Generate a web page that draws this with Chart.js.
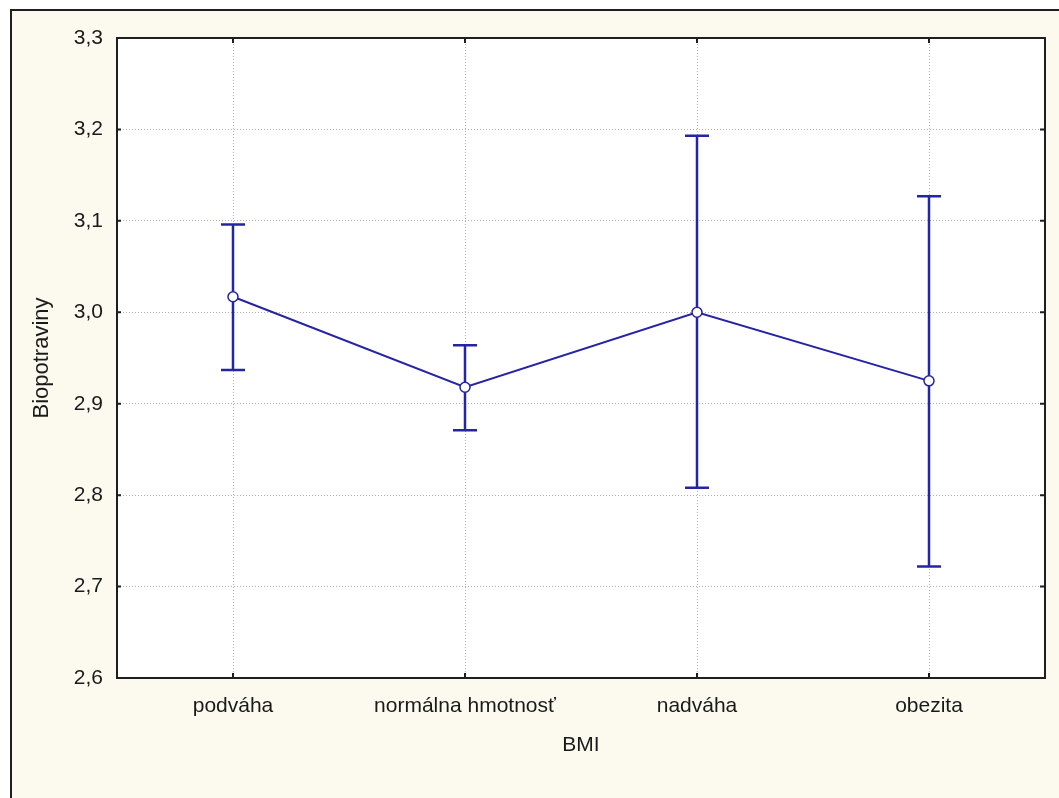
<!DOCTYPE html>
<html>
<head>
<meta charset="utf-8">
<script src="https://cdn.jsdelivr.net/npm/chart.js@4.4.0/dist/chart.umd.min.js"></script>
<style>
  html, body { margin: 0; padding: 0; background: #fff; }
  canvas { display: block; }
</style>
</head>
<body>
<canvas id="chart" width="1059" height="798"></canvas>
<script>
const categories = ["podváha", "normálna hmotnosť", "nadváha", "obezita"];
const means = [3.017, 2.918, 3.000, 2.925];
const upper = [3.096, 2.964, 3.193, 3.127];
const lower = [2.937, 2.871, 2.808, 2.722];
const yMin = 2.6;
const yMax = 3.3;

const lineColor = "#2424A4";
const frameColor = "#1E1E1E";

const fmt = (v) => v.toFixed(1).replace(".", ",");

const backdrop = {
  id: "backdrop",
  beforeDraw(chart) {
    const { ctx, chartArea: a, width, height } = chart;
    ctx.save();
    ctx.fillStyle = "#ffffff";
    ctx.fillRect(0, 0, width, height);
    ctx.fillStyle = "#FCF9EF";
    ctx.fillRect(11, 10, width - 11, height - 10);
    ctx.strokeStyle = frameColor;
    ctx.lineWidth = 2;
    ctx.beginPath();
    ctx.moveTo(11, height);
    ctx.lineTo(11, 10);
    ctx.lineTo(width, 10);
    ctx.stroke();
    ctx.fillStyle = "#ffffff";
    ctx.fillRect(a.left, a.top, a.right - a.left, a.bottom - a.top);
    ctx.restore();
  }
};

const errorBars = {
  id: "errorBars",
  beforeDatasetsDraw(chart) {
    const { ctx, scales: { x, y } } = chart;
    ctx.save();
    ctx.strokeStyle = lineColor;
    ctx.lineWidth = 2.5;
    categories.forEach((c, i) => {
      const px = x.getPixelForValue(i);
      const top = y.getPixelForValue(upper[i]);
      const bot = y.getPixelForValue(lower[i]);
      ctx.beginPath();
      ctx.moveTo(px, top);
      ctx.lineTo(px, bot);
      ctx.moveTo(px - 12, top);
      ctx.lineTo(px + 12, top);
      ctx.moveTo(px - 12, bot);
      ctx.lineTo(px + 12, bot);
      ctx.stroke();
    });
    ctx.restore();
  },
  afterDraw(chart) {
    const { ctx, chartArea: a, scales: { x, y } } = chart;
    ctx.save();
    ctx.strokeStyle = frameColor;
    ctx.lineWidth = 2;
    ctx.strokeRect(a.left, a.top, a.right - a.left, a.bottom - a.top);
    ctx.beginPath();
    categories.forEach((c, i) => {
      const px = x.getPixelForValue(i);
      ctx.moveTo(px, a.top);
      ctx.lineTo(px, a.top + 5);
      ctx.moveTo(px, a.bottom);
      ctx.lineTo(px, a.bottom - 5);
    });
    y.ticks.forEach((t) => {
      const py = y.getPixelForValue(t.value);
      ctx.moveTo(a.right, py);
      ctx.lineTo(a.right - 5, py);
      ctx.moveTo(a.left, py);
      ctx.lineTo(a.left + 4, py);
    });
    ctx.stroke();
    ctx.restore();
  }
};

new Chart(document.getElementById("chart").getContext("2d"), {
  type: "line",
  data: {
    labels: categories,
    datasets: [
      {
        label: "Biopotraviny",
        data: means,
        borderColor: lineColor,
        borderWidth: 2,
        pointRadius: 5,
        pointBorderWidth: 1.5,
        pointBackgroundColor: "#ffffff",
        pointBorderColor: lineColor,
        tension: 0,
        fill: false
      }
    ]
  },
  options: {
    responsive: false,
    animation: false,
    layout: { padding: { left: 0, top: 38, right: 14, bottom: 0 } },
    plugins: {
      legend: { display: false },
      tooltip: { enabled: false }
    },
    scales: {
      x: {
        offset: true,
        afterFit: (scale) => { scale.height = 120; },
        grid: { offset: false, color: "#b0b0b0", lineWidth: 1, drawTicks: false },
        border: { display: false, dash: [1, 2] },
        ticks: {
          color: "#1a1a1a",
          padding: 16,
          maxRotation: 0,
          autoSkip: false,
          font: { family: "'Liberation Sans', Arial, sans-serif", size: 21 }
        },
        title: {
          display: true,
          text: "BMI",
          color: "#1a1a1a",
          padding: { top: 0, bottom: 40 },
          font: { family: "'Liberation Sans', Arial, sans-serif", size: 21 }
        }
      },
      y: {
        min: yMin,
        max: yMax,
        afterFit: (scale) => { scale.width = 117; },
        grid: { color: "#b0b0b0", lineWidth: 1, drawTicks: false },
        border: { display: false, dash: [1, 2] },
        ticks: {
          stepSize: 0.1,
          color: "#1a1a1a",
          padding: 14,
          callback: (v) => fmt(v),
          font: { family: "'Liberation Sans', Arial, sans-serif", size: 21 }
        },
        title: {
          display: true,
          text: "Biopotraviny",
          color: "#1a1a1a",
          padding: { top: 29, bottom: 0 },
          font: { family: "'Liberation Sans', Arial, sans-serif", size: 22 }
        }
      }
    }
  },
  plugins: [backdrop, errorBars]
});
</script>
</body>
</html>
